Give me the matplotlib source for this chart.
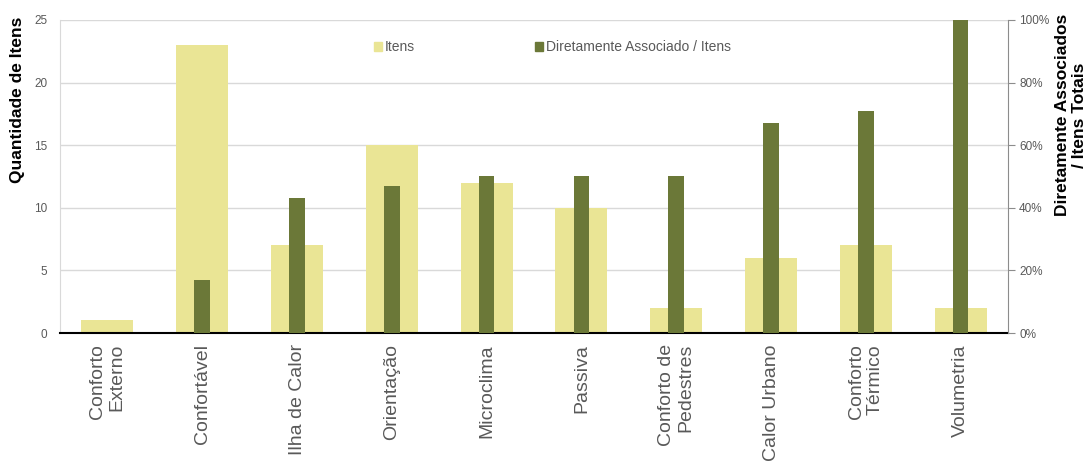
import numpy as np
import matplotlib.pyplot as plt
from matplotlib.patches import Patch
from matplotlib.ticker import PercentFormatter

plt.rcParams['font.family'] = ['Liberation Sans', 'DejaVu Sans']

categories = ['Conforto\nExterno', 'Confortável', 'Ilha de Calor', 'Orientação', 'Microclima',
              'Passiva', 'Conforto de\nPedestres', 'Calor Urbano', 'Conforto\nTérmico', 'Volumetria']
itens = [1, 23, 7, 15, 12, 10, 2, 6, 7, 2]
associados_pct = [0, 17, 43, 47, 50, 50, 50, 67, 71, 100]

LIGHT = '#EAE595'
GREEN = '#6B7838'
TEXT = '#595959'

fig = plt.figure(figsize=(10.9, 4.61), dpi=100)
ax = fig.add_axes([60 / 1090, 1 - 333 / 461, 948 / 1090, 313 / 461])
ax2 = ax.twinx()

x = np.arange(len(categories))
ax.bar(x, itens, width=0.55, color=LIGHT, zorder=2)
ax2.bar(x, associados_pct, width=0.165, color=GREEN, zorder=3)

ax.set_xlim(-0.5, len(categories) - 0.5)
ax.set_ylim(0, 25)
ax.set_yticks(range(0, 26, 5))
ax2.set_ylim(0, 100)
ax2.set_yticks(range(0, 101, 20))
ax2.yaxis.set_major_formatter(PercentFormatter(decimals=0))

ax.set_axisbelow(True)
ax.grid(axis='y', color='#D9D9D9', linewidth=1)

# only the bottom, a faint left and a grey right spine
for a in (ax, ax2):
    for s in ('top', 'left', 'right'):
        a.spines[s].set_visible(False)
ax.spines['left'].set_visible(True)
ax.spines['left'].set_color('#D9D9D9')
ax2.spines['right'].set_visible(True)
ax2.spines['right'].set_color('#8C8C8C')
ax.spines['bottom'].set_color('black')
ax.spines['bottom'].set_linewidth(1.5)
ax2.spines['bottom'].set_visible(False)

ax.tick_params(axis='y', length=0, pad=9, labelsize=8.5, labelcolor=TEXT)
ax2.tick_params(axis='y', length=5, color='#8C8C8C', pad=3, labelsize=8.5, labelcolor=TEXT)
ax.set_xticks(x)
ax.set_xticklabels(categories, rotation=90, fontsize=14, color=TEXT, ma='right')
ax.tick_params(axis='x', length=0, pad=8)

fig.text(18 / 1090, 1 - 100 / 461, 'Quantidade de Itens', rotation=90, fontsize=12.5,
         fontweight='bold', ha='center', va='center')
fig.text(1071 / 1090, 1 - 115 / 461, 'Diretamente Associados\n/ Itens Totais', rotation=90,
         fontsize=12.5, fontweight='bold', ha='center', va='center', ma='center')

handles = [Patch(color=LIGHT, label='Itens'),
           Patch(color=GREEN, label='Diretamente Associado / Itens')]
fig.legend(handles=handles, loc='center left', bbox_to_anchor=(367 / 1090, 1 - 47 / 461),
           ncol=2, frameon=False, fontsize=10, handlelength=0.6, handleheight=0.6,
           handletextpad=0.2, columnspacing=8.6, borderpad=0, labelcolor=TEXT)

fig.savefig('out.png', dpi=100)
